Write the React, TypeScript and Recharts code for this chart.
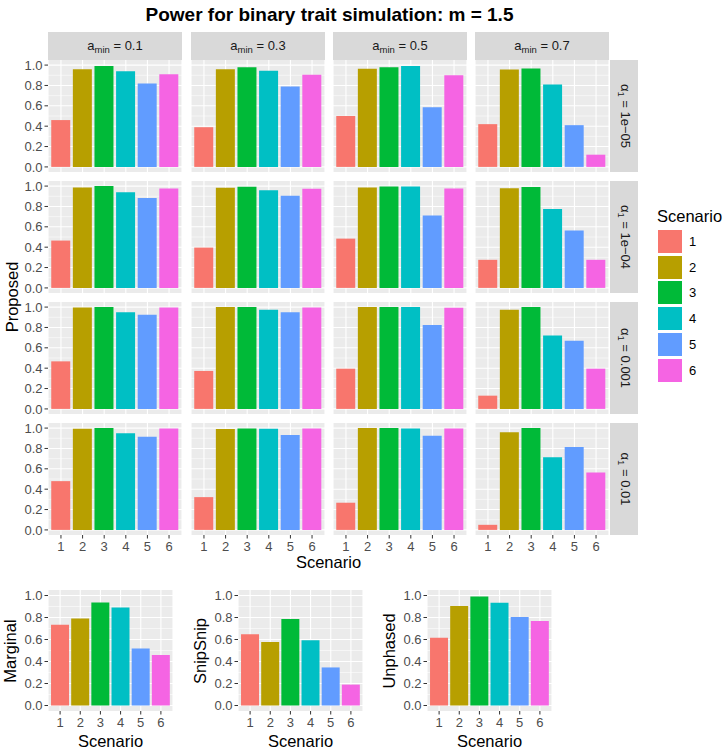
import React from 'react';
import { BarChart, Bar, XAxis, YAxis, CartesianGrid, Cell } from 'recharts';

// Scenario categories and ggplot default hue palette
const scenarios = ['1', '2', '3', '4', '5', '6'];
const scenarioColors = ['#F8766D', '#B79F00', '#00BA38', '#00BFC4', '#619CFF', '#F564E3'];

// facet levels
const aminLevels = ['0.1', '0.3', '0.5', '0.7'];
const alphaLevels = ['1e\u221205', '1e\u221204', '0.001', '0.01'];

// Proposed power, one row per alpha, one list per a_min
const alpha1e05 = [
  [0.46, 0.96, 0.99, 0.94, 0.82, 0.91],
  [0.39, 0.96, 0.98, 0.945, 0.79, 0.905],
  [0.5, 0.964, 0.98, 0.99, 0.586, 0.9],
  [0.42, 0.957, 0.967, 0.81, 0.41, 0.12],
];
const alpha1e04 = [
  [0.465, 0.987, 1.0, 0.94, 0.883, 0.977],
  [0.396, 0.984, 0.994, 0.96, 0.906, 0.974],
  [0.484, 0.987, 0.997, 0.997, 0.71, 0.977],
  [0.276, 0.98, 0.99, 0.776, 0.565, 0.276],
];
const alpha0001 = [
  [0.467, 0.997, 1.0, 0.95, 0.925, 0.997],
  [0.373, 1.0, 1.0, 0.974, 0.95, 0.997],
  [0.395, 1.0, 1.0, 1.0, 0.824, 0.993],
  [0.13, 0.974, 1.0, 0.72, 0.67, 0.395],
];
const alpha001 = [
  [0.479, 0.993, 1.0, 0.95, 0.915, 0.997],
  [0.322, 0.99, 0.997, 0.993, 0.932, 0.997],
  [0.267, 1.0, 1.0, 0.997, 0.925, 0.997],
  [0.05, 0.96, 1.0, 0.713, 0.814, 0.564],
];
const proposedRows = [alpha1e05, alpha1e04, alpha0001, alpha001];

// other methods
const marginal = [0.735, 0.79, 0.937, 0.89, 0.518, 0.46];
const snipSnip = [0.648, 0.578, 0.786, 0.593, 0.346, 0.19];
const unphased = [0.617, 0.904, 0.99, 0.934, 0.804, 0.768];

const yTicks = [0, 0.2, 0.4, 0.6, 0.8, 1.0];
const yMinor = [0.1, 0.3, 0.5, 0.7, 0.9];

const FONT = '"Liberation Sans", Arial, Helvetica, sans-serif';
const Y_W = 40;
const X_H = 24;
const M = 8; // room above/below the panel so edge tick labels are not clipped
const TICK_FS = 13;
const TITLE_FS = 16.5;

interface PanelProps {
  values: number[];
  left: number;
  top: number;
  width: number;
  height: number;
  showY: boolean;
  showX: boolean;
}

const Panel: React.FC<PanelProps> = ({ values, left, top, width, height, showY, showX }) => {
  const data = scenarios.map((s, i) => ({ s, v: values[i] }));
  const w = width + (showY ? Y_W : 0);
  const h = height + (showX ? X_H : 0) + 2 * M;
  const pad = (width * 0.1) / 6.2;
  return (
    <div style={{ position: 'absolute', left: left - (showY ? Y_W : 0), top: top - M, width: w, height: h }}>
      <BarChart
        width={w}
        height={h}
        data={data}
        margin={{ top: M, right: 0, bottom: M, left: 0 }}
        barCategoryGap="5%"
      >
        <CartesianGrid
          fill="#EBEBEB"
          stroke="#FFFFFF"
          strokeWidth={0.55}
          horizontalValues={yMinor}
          vertical={false}
        />
        <CartesianGrid stroke="#FFFFFF" strokeWidth={1.1} horizontalValues={yTicks} />
        <XAxis
          dataKey="s"
          type="category"
          hide={!showX}
          height={showX ? X_H : 0}
          padding={{ left: pad, right: pad }}
          interval={0}
          axisLine={false}
          tickLine={{ stroke: '#333333', strokeWidth: 1 }}
          tickSize={3.5}
          tickMargin={3}
          tick={{ fontSize: TICK_FS, fill: '#4D4D4D', fontFamily: FONT }}
        />
        <YAxis
          type="number"
          domain={[-0.05, 1.05]}
          ticks={yTicks}
          interval={0}
          hide={!showY}
          width={showY ? Y_W : 0}
          axisLine={false}
          tickLine={{ stroke: '#333333', strokeWidth: 1 }}
          tickSize={3.5}
          tickMargin={2}
          tickFormatter={(v: number) => v.toFixed(1)}
          tick={{ fontSize: TICK_FS, fill: '#4D4D4D', fontFamily: FONT }}
        />
        <Bar dataKey="v" isAnimationActive={false}>
          {data.map((d, i) => (
            <Cell key={d.s} fill={scenarioColors[i]} />
          ))}
        </Bar>
      </BarChart>
    </div>
  );
};

const colLefts = [48, 191, 333, 475];
const rowTops = [60, 181, 302, 423];
const PW = 134;
const PH = 112;

const bottomLefts = [48, 238, 427];
const BW = 125;
const BH = 121;
const BTOP = 590;
const bottomSets = [
  { name: 'Marginal', values: marginal },
  { name: 'SnipSnip', values: snipSnip },
  { name: 'Unphased', values: unphased },
];

const App: React.FC = () => {
  return (
    <div
      style={{
        position: 'absolute',
        left: 0,
        top: 0,
        width: 725,
        height: 750,
        background: '#FFFFFF',
        fontFamily: FONT,
        overflow: 'hidden',
      }}
    >
      <div
        style={{
          position: 'absolute',
          left: 48,
          width: 563,
          top: 3,
          textAlign: 'center',
          fontSize: 19,
          fontWeight: 'bold',
          color: '#000',
          lineHeight: '23px',
        }}
      >
        Power for binary trait simulation: m = 1.5
      </div>

      {/* top strips */}
      {aminLevels.map((a, c) => (
        <div
          key={a}
          style={{
            position: 'absolute',
            left: colLefts[c],
            top: 32,
            width: PW,
            height: 28,
            background: '#D9D9D9',
            color: '#1A1A1A',
            fontSize: 13,
            textAlign: 'center',
            lineHeight: '28px',
          }}
        >
          a<span style={{ fontSize: 9.5, position: 'relative', top: 3 }}>min</span> = {a}
        </div>
      ))}

      {/* right strips */}
      {alphaLevels.map((al, r) => (
        <div
          key={al}
          style={{
            position: 'absolute',
            left: 610,
            top: rowTops[r],
            width: 28,
            height: PH,
            background: '#D9D9D9',
          }}
        >
          <div
            style={{
              position: 'absolute',
              left: 14,
              top: PH / 2,
              transform: 'translate(-50%, -50%) rotate(90deg)',
              whiteSpace: 'nowrap',
              color: '#1A1A1A',
              fontSize: 13,
              lineHeight: '14px',
            }}
          >
            {'\u03B1'}
            <span style={{ fontSize: 9.5, position: 'relative', top: 3 }}>1</span> = {al}
          </div>
        </div>
      ))}

      {proposedRows.map((row, r) =>
        row.map((vals, c) => (
          <Panel
            key={`${r}-${c}`}
            values={vals}
            left={colLefts[c]}
            top={rowTops[r]}
            width={PW}
            height={PH}
            showY={c === 0}
            showX={r === 3}
          />
        ))
      )}

      {/* axis titles for the facet grid */}
      <div
        style={{
          position: 'absolute',
          left: 12,
          top: 297,
          transform: 'translate(-50%, -50%) rotate(-90deg)',
          fontSize: TITLE_FS,
          color: '#000',
          whiteSpace: 'nowrap',
        }}
      >
        Proposed
      </div>
      <div
        style={{
          position: 'absolute',
          left: 48,
          width: 561,
          top: 555,
          textAlign: 'center',
          fontSize: TITLE_FS,
          color: '#000',
          lineHeight: '15px',
        }}
      >
        Scenario
      </div>

      {/* legend */}
      <div style={{ position: 'absolute', left: 657, top: 207, fontSize: TITLE_FS, color: '#000', lineHeight: '19px' }}>
        Scenario
      </div>
      {scenarios.map((s, i) => (
        <React.Fragment key={s}>
          <div
            style={{
              position: 'absolute',
              left: 658,
              top: 230 + i * 25.7,
              width: 24,
              height: 23,
              background: scenarioColors[i],
            }}
          />
          <div
            style={{
              position: 'absolute',
              left: 689,
              top: 230 + i * 25.7,
              height: 23,
              lineHeight: '23px',
              fontSize: TICK_FS,
              color: '#000',
            }}
          >
            {s}
          </div>
        </React.Fragment>
      ))}

      {/* bottom row */}
      {bottomSets.map((b, i) => (
        <React.Fragment key={b.name}>
          <Panel values={b.values} left={bottomLefts[i]} top={BTOP} width={BW} height={BH} showY showX />
          <div
            style={{
              position: 'absolute',
              left: bottomLefts[i] - 38,
              top: BTOP + BH / 2,
              transform: 'translate(-50%, -50%) rotate(-90deg)',
              fontSize: TITLE_FS,
              color: '#000',
              whiteSpace: 'nowrap',
            }}
          >
            {b.name}
          </div>
          <div
            style={{
              position: 'absolute',
              left: bottomLefts[i],
              width: BW,
              top: 734,
              textAlign: 'center',
              fontSize: TITLE_FS,
              color: '#000',
              lineHeight: '15px',
            }}
          >
            Scenario
          </div>
        </React.Fragment>
      ))}
    </div>
  );
};

export default App;
